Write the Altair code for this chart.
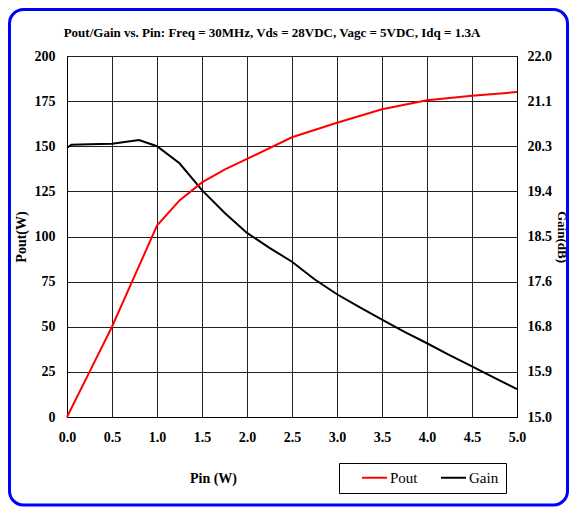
import altair as alt
import pandas as pd

# ---- data ----
pin_pout = [0.0, 0.25, 0.5, 0.75, 1.0, 1.25, 1.5, 1.75, 2.0, 2.5, 3.0, 3.5, 4.0, 4.5, 5.0]
pout = [0, 25, 50, 78, 106, 120, 130, 137, 143, 155, 163, 170.5, 175.5, 178, 180]

pin_gain = [0.0, 0.05, 0.25, 0.5, 0.8, 1.0, 1.25, 1.5, 1.75, 2.0, 2.25, 2.5, 2.75,
            3.0, 3.25, 3.5, 3.75, 4.0, 4.25, 4.5, 4.75, 5.0]
gain = [20.22, 20.28, 20.29, 20.30, 20.37, 20.25, 19.92, 19.40, 18.96, 18.57, 18.28,
        18.01, 17.67, 17.38, 17.13, 16.89, 16.65, 16.43, 16.20, 15.98, 15.76, 15.54]

series_names = ["Pout", "Gain"]
series_colors = ["#FF0000", "#000000"]
x_ticks = [0.0, 0.5, 1.0, 1.5, 2.0, 2.5, 3.0, 3.5, 4.0, 4.5, 5.0]
left_ticks = [0, 25, 50, 75, 100, 125, 150, 175, 200]
right_ticks = [15.0, 15.875, 16.75, 17.625, 18.5, 19.375, 20.25, 21.125, 22.0]
title_text = "Pout/Gain vs. Pin: Freq = 30MHz, Vds = 28VDC, Vagc = 5VDC, Idq = 1.3A"

df_pout = pd.DataFrame({"Pin": pin_pout, "value": pout, "series": "Pout"})
df_gain = pd.DataFrame({"Pin": pin_gain, "value": gain, "series": "Gain"})

FONT = "Liberation Serif"
W, H = 450, 361

color = alt.Color(
    "series:N",
    scale=alt.Scale(domain=series_names, range=series_colors),
    legend=alt.Legend(
        title=None, orient="none", legendX=272, legendY=407, direction="horizontal",
        strokeColor="black", padding=7, symbolType="stroke", symbolSize=625,
        symbolStrokeWidth=2, clipHeight=15, labelFont=FONT, labelFontSize=15,
        labelColor="black", symbolOffset=15, columnPadding=7, labelOffset=2,
    ),
)

x_enc = alt.X(
    "Pin:Q",
    scale=alt.Scale(domain=[0, 5], nice=False),
    axis=alt.Axis(values=x_ticks, format=".1f", title="Pin (W)", grid=True,
                  labelFlush=False, labelPadding=13, titleX=146, titleY=61,
                  titleAlign="center", titleBaseline="middle"),
)

pout_line = alt.Chart(df_pout).mark_line(strokeWidth=2).encode(
    x=x_enc,
    y=alt.Y("value:Q", scale=alt.Scale(domain=[0, 200], nice=False),
            axis=alt.Axis(values=left_ticks, title="Pout(W)", orient="left", grid=True,
                          labelFlush=False, labelPadding=12, titlePadding=6)),
    color=color,
)

gain_line = alt.Chart(df_gain).mark_line(strokeWidth=2).encode(
    x=x_enc,
    y=alt.Y("value:Q", scale=alt.Scale(domain=[15, 22], nice=False),
            axis=alt.Axis(values=right_ticks, format=".1f", title="Gain(dB)",
                          orient="right", grid=False, labelFlush=False,
                          labelPadding=10, titlePadding=3, titleFontSize=13)),
    color=color,
)

border = alt.Chart(alt.Data(values=[{"k": 1}])).mark_rect(
    fill="transparent", stroke="#0000FF", strokeWidth=3, cornerRadius=14
).encode(
    x=alt.value(-57.5), x2=alt.value(500.5), y=alt.value(-46.5), y2=alt.value(449)
)

chart = (
    alt.layer(border, gain_line, pout_line)
    .resolve_scale(y="independent")
    .properties(
        width=W, height=H,
        background="white",
        autosize=alt.AutoSizeParams(type="none"),
        padding={"left": 59, "top": 48, "right": 52, "bottom": 91},
        title=alt.Title(title_text, font=FONT, fontSize=13, fontWeight="bold",
                        color="black", anchor="middle", dx=-20, offset=-42,
                        baseline="alphabetic"),
    )
    .configure_view(stroke="black", strokeWidth=1)
    .configure_axis(
        domainColor="black", domainWidth=1, gridColor="#222222", gridWidth=1,
        gridOpacity=1, ticks=False, labelFont=FONT, labelFontSize=14,
        labelFontWeight="bold", labelColor="black", titleFont=FONT,
        titleFontSize=14, titleFontWeight="bold", titleColor="black",
    )
)

chart.save("out.html", embed_options={"renderer": "svg", "actions": False})
